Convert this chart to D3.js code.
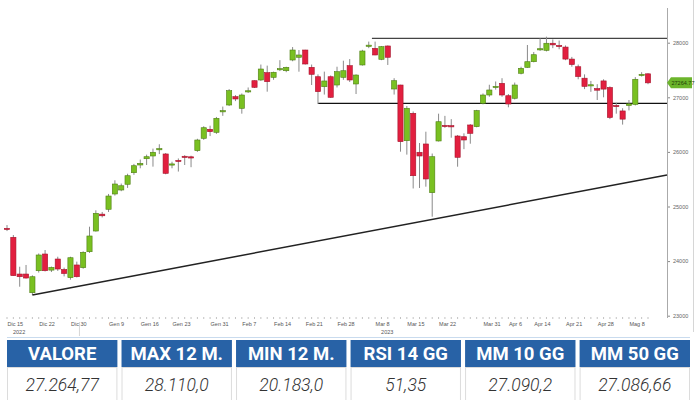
<!DOCTYPE html>
<html>
<head>
<meta charset="utf-8">
<script src="https://cdn.jsdelivr.net/npm/d3@7"></script>
<style>
  html, body { margin: 0; padding: 0; background: #fff; }
  svg { display: block; }
</style>
</head>
<body>
<svg id="chart" width="700" height="400"></svg>
<script>
// ---- DATA ----
const openV = [24600,24436,23763,23763,23421,23824,24130,23835,24038,23846,
  23696,23929,23880,24172,24551,24860,24949,25229,25302,25407,
  25619,25760,25875,25925,26050,25962,25770,25845,25920,25910,
  26022,26249,26414,26359,26745,26859,27011,26798,27110,27304,
  27317,27451,27366,27515,27487,27683,27733,27866,27549,27377,
  27194,27377,27225,27366,27579,27244,27592,27945,27897,27696,
  27940,27152,27225,26205,26707,25993,26145,25253,26200,26485,
  26480,26291,26278,26493,26462,26890,27042,27190,27256,27029,
  26982,27440,27549,27652,27880,27860,27990,27950,27920,27700,
  27560,27350,27230,27160,27300,27180,26850,26750,26850,26870,
  27400,27430];
const highV = [24660,24478,23897,23929,23740,24140,24203,23900,24080,23880,
  24080,23990,24180,24630,24930,24900,25230,25480,25420,25600,
  25780,25860,25950,26060,26140,25980,25820,25880,25940,25930,
  26240,26470,26480,26640,26830,27150,27040,27070,27180,27310,
  27600,27580,27470,27680,27560,27920,27866,27870,27600,27420,
  27470,27400,27560,27670,27700,27420,27870,28020,28020,27940,
  27950,27350,27230,26840,26740,26163,26370,25970,26700,26660,
  26600,26310,26340,26510,26770,27070,27230,27290,27350,27060,
  27270,27560,27958,27830,28080,28110,28060,28040,27950,27740,
  27600,27420,27300,27240,27330,27200,26900,26800,26950,27370,
  27460,27440];
const lowV = [24550,23733,23531,23680,23379,23790,23810,23800,23820,23720,
  23660,23700,23860,24150,24540,24800,24900,25200,25280,25340,
  25580,25700,25760,25730,25960,25590,25700,25640,25760,25720,
  26000,26220,26290,26330,26660,26840,26930,26700,27080,27170,
  27300,27103,27320,27480,27460,27660,27469,27600,27225,26877,
  27050,26990,27180,27320,27280,27060,27580,27900,27770,27680,
  27592,27050,26004,25950,25330,25339,25363,24813,26190,26440,
  26260,25729,26050,26150,26450,26870,27010,27140,27010,26817,
  26960,27420,27540,27640,27850,27840,27900,27880,27680,27560,
  27330,27150,27100,26950,27000,26600,26700,26500,26760,26850,
  27380,27240];
const closeV = [24590,23733,23714,23690,23714,24112,23824,23885,23855,23773,
  24062,23714,24161,24460,24875,24830,25192,25412,25380,25564,
  25747,25790,25912,25993,26060,25608,25780,25835,25910,25900,
  26218,26443,26370,26615,26755,27121,26969,27042,27120,27183,
  27518,27286,27458,27525,27549,27866,27775,27610,27421,27103,
  27299,27000,27469,27487,27317,27408,27848,27955,27775,27927,
  27733,27304,26187,26799,25564,25925,25504,25912,26553,26480,
  26470,25901,26218,26340,26756,27042,27134,27200,27042,26877,
  27225,27531,27652,27780,27890,27990,27960,27940,27700,27600,
  27380,27200,27230,27130,27150,26630,26830,26600,26880,27330,
  27420,27264.77];

const xTickIdx = [0,5,10,16,21,26,32,37,42,47,52,58,63,68,75,79,83,88,93,98];
const xTickLabels = ["Dic 15","Dic 22","Dic 30","Gen 9","Gen 16","Gen 23","Gen 31","Feb 7","Feb 14","Feb 21",
  "Feb 28","Mar 8","Mar 15","Mar 22","Mar 31","Apr 6","Apr 14","Apr 21","Apr 28","Mag 8"];
const yearIdx = [0, 58];
const yearLabels = ["2022", "2023"];
const yTicks = [23000, 24000, 25000, 26000, 27000, 28000];

const resistance = 28080;
const support = 26887;
const trendStart = {i: 4, v: 23379};
const trendEnd = {i: 104, v: 25577};
const lastPrice = "27264.77";

const statHeaders = ["VALORE", "MAX 12 M.", "MIN 12 M.", "RSI 14 GG", "MM 10 GG", "MM 50 GG"];
const statValues = ["27.264,77", "28.110,0", "20.183,0", "51,35", "27.090,2", "27.086,66"];

// ---- DRAWING ----
const svg = d3.select("#chart");
const candles = closeV.map((c, i) => ({i, o: openV[i], h: highV[i], l: lowV[i], c}));

const x = d3.scaleLinear().domain([0, 101]).range([7, 648]);
const y = d3.scaleLinear().domain([23000, 28000]).range([315.7, 42.7]);
const axisX = 667;

// right border
svg.append("line").attr("x1", 693.5).attr("x2", 693.5).attr("y1", 0).attr("y2", 332)
  .attr("stroke", "#d6d6d6").attr("stroke-width", 1);

// y axis
const yAxis = d3.axisRight(y).tickValues(yTicks).tickSize(3).tickPadding(3)
  .tickFormat(d3.format("d"));
const gy = svg.append("g").attr("transform", `translate(${axisX},0)`).call(yAxis);
gy.select(".domain").remove();
gy.selectAll("line").attr("stroke", "#888");
gy.selectAll("text").attr("font-family", "Liberation Sans, Arial, sans-serif")
  .attr("font-size", 5.5).attr("fill", "#666");
svg.append("line").attr("x1", axisX + 0.5).attr("x2", axisX + 0.5).attr("y1", 8).attr("y2", 318)
  .attr("stroke", "#aaa").attr("stroke-width", 1);

// x axis minor ticks
svg.append("g").selectAll("line").data(candles).join("line")
  .attr("x1", d => x(d.i)).attr("x2", d => x(d.i))
  .attr("y1", 317).attr("y2", 319).attr("stroke", "#999").attr("stroke-width", 0.6);

// x axis labels
const xAxis = d3.axisBottom(x).tickValues(xTickIdx).tickSize(0).tickPadding(0)
  .tickFormat((d, k) => xTickLabels[k]);
const gx = svg.append("g").attr("transform", "translate(0,322)").call(xAxis);
gx.select(".domain").remove();
gx.selectAll("text").attr("text-anchor", "start").attr("dy", "0.7em")
  .attr("font-family", "Liberation Sans, Arial, sans-serif")
  .attr("font-size", 5.5).attr("fill", "#555");
svg.append("g").selectAll("text").data(yearIdx).join("text")
  .attr("x", d => x(d) + 6).attr("y", 334)
  .attr("font-family", "Liberation Sans, Arial, sans-serif")
  .attr("font-size", 5.5).attr("fill", "#555")
  .text((d, k) => yearLabels[k]);
svg.append("line").attr("x1", x(10) + 9).attr("x2", x(10) + 9).attr("y1", 322).attr("y2", 336)
  .attr("stroke", "#bbb").attr("stroke-width", 0.6);

// reference lines
svg.append("line").attr("x1", x(57.5)).attr("x2", axisX).attr("y1", y(resistance)).attr("y2", y(resistance))
  .attr("stroke", "#444").attr("stroke-width", 1.2);
svg.append("line").attr("x1", x(49)).attr("x2", axisX).attr("y1", y(support)).attr("y2", y(support))
  .attr("stroke", "#111").attr("stroke-width", 1.3);

// candles
const g = svg.append("g");
const up = d => d.c >= d.o;
g.selectAll("line.wick").data(candles).join("line").attr("class", "wick")
  .attr("x1", d => x(d.i)).attr("x2", d => x(d.i))
  .attr("y1", d => y(d.h)).attr("y2", d => y(d.l))
  .attr("stroke", "#8a8a8a").attr("stroke-width", 1);
g.selectAll("rect").data(candles).join("rect")
  .attr("x", d => x(d.i) - 2.6).attr("width", 5.2)
  .attr("y", d => y(Math.max(d.o, d.c)))
  .attr("height", d => Math.max(1.2, Math.abs(y(d.o) - y(d.c))))
  .attr("fill", d => up(d) ? "#79c021" : "#e21f3f")
  .attr("stroke", d => up(d) ? "#4f7f14" : "#a5142c")
  .attr("stroke-width", 0.6);

// trend line
svg.append("line")
  .attr("x1", x(trendStart.i)).attr("y1", y(trendStart.v))
  .attr("x2", axisX).attr("y2", y(trendStart.v) + (y(trendEnd.v) - y(trendStart.v)) * (axisX - x(trendStart.i)) / (x(trendEnd.i) - x(trendStart.i)))
  .attr("stroke", "#222").attr("stroke-width", 1.5);

// last price marker
const ly = y(closeV[closeV.length - 1]);
svg.append("path")
  .attr("d", `M${axisX},${ly} L${axisX + 4},${ly - 5.5} L${692},${ly - 5.5} L${692},${ly + 5.5} L${axisX + 4},${ly + 5.5} Z`)
  .attr("fill", "#6cb52c");
svg.append("text").attr("x", axisX + 4.5).attr("y", ly + 2)
  .attr("font-family", "Liberation Sans, Arial, sans-serif").attr("font-size", 5.5)
  .attr("fill", "#1e3d07").text(lastPrice);

// stats table
const boxX = d3.scaleBand().domain(d3.range(statHeaders.length)).range([7, 690]).paddingInner(0.036);
const t = svg.append("g");
t.append("line").attr("x1", 7).attr("x2", 690).attr("y1", 337.5).attr("y2", 337.5)
  .attr("stroke", "#c9dbee").attr("stroke-width", 1);
const cell = t.selectAll("g").data(statHeaders).join("g")
  .attr("transform", (d, k) => `translate(${boxX(k)},0)`);
cell.append("rect").attr("y", 340).attr("height", 27).attr("width", boxX.bandwidth())
  .attr("fill", "#2862a6");
cell.append("rect").attr("y", 367.5).attr("height", 34).attr("width", boxX.bandwidth() - 1)
  .attr("x", 0.5).attr("fill", "#fff").attr("stroke", "#dcdcdc").attr("stroke-width", 1);
cell.append("text").attr("x", boxX.bandwidth() / 2).attr("y", 360)
  .attr("text-anchor", "middle").attr("font-family", "Roboto, sans-serif")
  .attr("font-weight", 700).attr("font-size", 18.5).attr("fill", "#fff")
  .text(d => d);
cell.append("text").attr("x", boxX.bandwidth() / 2).attr("y", 391)
  .attr("text-anchor", "middle").attr("font-family", "Roboto, sans-serif")
  .attr("font-style", "italic").attr("font-weight", 300).attr("font-size", 17.5).attr("fill", "#333")
  .text((d, k) => statValues[k]);
</script>
</body>
</html>
